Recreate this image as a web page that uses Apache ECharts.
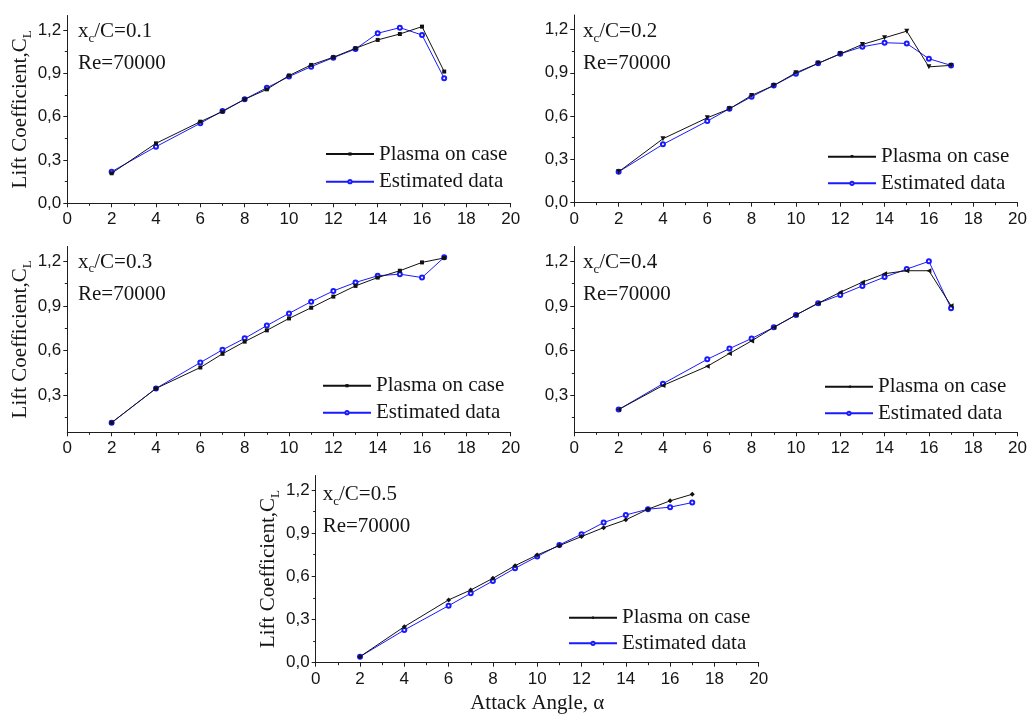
<!DOCTYPE html>
<html><head><meta charset="utf-8">
<script src="https://cdn.jsdelivr.net/npm/echarts@6/dist/echarts.min.js"></script>
<style>html,body{margin:0;padding:0;background:#fff}#c{width:1030px;height:717px}</style>
</head><body><div id="c"></div>
<script>
// ---- data ----
const angles = [2, 4, 6, 7, 8, 9, 10, 11, 12, 13, 14, 15, 16, 17];
const plasma01 = [0.208, 0.415, 0.565, 0.635, 0.720, 0.789, 0.884, 0.958, 1.011, 1.073, 1.131, 1.172, 1.223, 0.912];
const est01    = [0.219, 0.392, 0.554, 0.639, 0.720, 0.800, 0.877, 0.946, 1.008, 1.068, 1.177, 1.216, 1.165, 0.865];
const plasma02 = [0.214, 0.443, 0.588, 0.650, 0.743, 0.812, 0.900, 0.965, 1.031, 1.096, 1.142, 1.188, 0.941, 0.951];
const est02    = [0.214, 0.404, 0.565, 0.651, 0.734, 0.812, 0.893, 0.965, 1.031, 1.080, 1.108, 1.103, 0.997, 0.951];
const plasma03 = [0.115, 0.345, 0.486, 0.578, 0.660, 0.736, 0.816, 0.888, 0.963, 1.035, 1.091, 1.137, 1.193, 1.223];
const est03    = [0.115, 0.345, 0.519, 0.605, 0.682, 0.768, 0.850, 0.929, 1.001, 1.058, 1.103, 1.114, 1.091, 1.227];
const plasma04 = [0.203, 0.365, 0.494, 0.580, 0.665, 0.756, 0.839, 0.918, 0.992, 1.060, 1.117, 1.137, 1.137, 0.902];
const est04    = [0.203, 0.377, 0.541, 0.613, 0.681, 0.756, 0.839, 0.918, 0.974, 1.035, 1.094, 1.148, 1.200, 0.884];
const plasma05 = [0.042, 0.250, 0.436, 0.505, 0.586, 0.674, 0.748, 0.813, 0.876, 0.938, 0.992, 1.066, 1.124, 1.170];
const est05    = [0.042, 0.227, 0.396, 0.482, 0.568, 0.656, 0.737, 0.818, 0.892, 0.973, 1.026, 1.066, 1.080, 1.112];
const ratios = ['0.1', '0.2', '0.3', '0.4', '0.5'];
const reynolds = 'Re=70000';
const seriesNames = ['Plasma on case', 'Estimated data'];
const yTicksFull = [0, 0.3, 0.6, 0.9, 1.2];
const yTicksNoZero = [0.3, 0.6, 0.9, 1.2];
const yMinorTicks = [0.15, 0.45, 0.75, 1.05];
const yAxisTitle = 'Lift Coefficient,C';
const yAxisTitleSub = 'L';
const xAxisTitle = 'Attack Angle, \u03b1';

// ---- layout / style ----
const SERIF = '"Liberation Serif", "DejaVu Serif", serif';
const SANS = '"Liberation Sans", Arial, sans-serif';
const AX = '#1e1e1e';
const BLACK = '#111111';
const BLUE = '#1a1aff';
const TXT = '#151515';

const panels = [
  {plasma: plasma01, est: est01, grid: {left: 67.3, top: 15.5, width: 443.4, height: 187.8}, ymin: 0, yLabels: yTicksFull, yName: true, xName: false,
   legend: {left: 325, top: 143.5, gap: 6.7}, title: {left: 78, top: 15.5}, sym: 'rect', symSize: 4, symRot: 0},
  {plasma: plasma02, est: est02, grid: {left: 574.3, top: 15, width: 443.4, height: 187.7}, ymin: 0, yLabels: yTicksFull, yName: false, xName: false,
   legend: {left: 827, top: 146.2, gap: 5.6}, title: {left: 583, top: 15.5}, sym: 'triangle', symSize: 5, symRot: 180},
  {plasma: plasma03, est: est03, grid: {left: 67.3, top: 246.5, width: 443.4, height: 185.8}, ymin: 0.05, yLabels: yTicksNoZero, yName: true, xName: false,
   legend: {left: 322, top: 375.2, gap: 6}, title: {left: 78, top: 246}, sym: 'rect', symSize: 4, symRot: 0},
  {plasma: plasma04, est: est04, grid: {left: 574.3, top: 246.5, width: 443.4, height: 185.8}, ymin: 0.05, yLabels: yTicksNoZero, yName: false, xName: false,
   legend: {left: 824, top: 376.2, gap: 5.6}, title: {left: 583, top: 246.5}, sym: 'triangle', symSize: 5, symRot: 90},
  {plasma: plasma05, est: est05, grid: {left: 315.7, top: 475.5, width: 443, height: 187.2}, ymin: 0, yLabels: yTicksFull, yName: true, xName: true,
   legend: {left: 568, top: 607.2, gap: 4.6}, title: {left: 322.7, top: 478.5}, sym: 'diamond', symSize: 5, symRot: 0}
];

const fmt = v => v.toFixed(1).replace('.', ',');
const option = {animation: false, backgroundColor: '#fff', grid: [], xAxis: [], yAxis: [], series: [], legend: [], title: []};

panels.forEach((p, i) => {
  option.grid.push(Object.assign({containLabel: false}, p.grid));
  option.xAxis.push({
    gridIndex: i, type: 'value', min: 0, max: 20, interval: 2,
    axisLine: {show: true, onZero: false, lineStyle: {color: AX, width: 1}},
    axisTick: {show: true, length: 4, lineStyle: {color: AX}},
    minorTick: {show: true, splitNumber: 2, length: 2.5, lineStyle: {color: AX}},
    splitLine: {show: false}, minorSplitLine: {show: false},
    axisLabel: {margin: 8, fontSize: 17, fontFamily: SANS, color: TXT},
    name: p.xName ? xAxisTitle : '', nameLocation: 'middle', nameGap: 30,
    nameTextStyle: {fontFamily: SERIF, fontSize: 21, color: TXT}
  });
  option.yAxis.push({
    gridIndex: i, type: 'value', min: p.ymin, max: 1.3, position: 'left',
    axisLine: {show: true, onZero: false, lineStyle: {color: AX, width: 1}},
    axisTick: {show: true, length: 4, customValues: p.yLabels, lineStyle: {color: AX}},
    axisLabel: {show: true, customValues: p.yLabels, formatter: fmt, margin: 6, fontSize: 17, fontFamily: SANS, color: TXT},
    splitLine: {show: false},
    name: p.yName ? '{m|' + yAxisTitle + '}{s|' + yAxisTitleSub + '}' : '',
    nameLocation: 'middle', nameRotate: 90, nameGap: 32,
    nameTextStyle: {color: TXT, rich: {
      m: {fontFamily: SERIF, fontSize: 21, color: TXT, verticalAlign: 'middle'},
      s: {fontFamily: SERIF, fontSize: 13, color: TXT, verticalAlign: 'middle', padding: [14, 0, 0, 0]}
    }}
  });
  option.yAxis.push({
    gridIndex: i, type: 'value', min: p.ymin, max: 1.3, position: 'left',
    axisLine: {show: false},
    axisTick: {show: true, length: 2.5, customValues: yMinorTicks, lineStyle: {color: AX}},
    axisLabel: {show: false}, splitLine: {show: false}
  });
  const n1 = seriesNames[0] + '#' + i, n2 = seriesNames[1] + '#' + i;
  option.series.push({
    name: n2, type: 'line', xAxisIndex: i, yAxisIndex: 2 * i,
    data: angles.map((a, k) => [a, p.est[k]]),
    symbol: 'emptyCircle', symbolSize: 4, showAllSymbol: true,
    lineStyle: {color: BLUE, width: 1}, itemStyle: {color: BLUE, borderColor: BLUE, borderWidth: 1}, z: 2
  });
  option.series.push({
    name: n1, type: 'line', xAxisIndex: i, yAxisIndex: 2 * i,
    data: angles.map((a, k) => [a, p.plasma[k]]),
    symbol: p.sym, symbolSize: p.symSize, symbolRotate: p.symRot, showAllSymbol: true,
    lineStyle: {color: BLACK, width: 1}, itemStyle: {color: BLACK}, z: 3
  });
  option.legend.push({
    orient: 'vertical', left: p.legend.left, top: p.legend.top, padding: 0,
    itemWidth: 48, itemHeight: 4, itemGap: p.legend.gap, selectedMode: false,
    data: [n1, n2], formatter: nm => nm.split('#')[0],
    textStyle: {fontFamily: SERIF, fontSize: 21, lineHeight: 21, color: TXT}
  });
  option.title.push({
    left: p.title.left, top: p.title.top, padding: 0,
    text: '{m|x}{s|c}{m|/C=' + ratios[i] + '}\n{m|' + reynolds + '}',
    textStyle: {fontWeight: 'normal', rich: {
      m: {fontFamily: SERIF, fontSize: 21, fontWeight: 'normal', lineHeight: 32, color: TXT, verticalAlign: 'middle'},
      s: {fontFamily: SERIF, fontSize: 13, fontWeight: 'normal', lineHeight: 32, color: TXT, verticalAlign: 'middle', padding: [14, 0, 0, 0]}
    }}
  });
});

const chart = echarts.init(document.getElementById('c'), null, {renderer: 'canvas'});
chart.setOption(option);
</script>
</body></html>
